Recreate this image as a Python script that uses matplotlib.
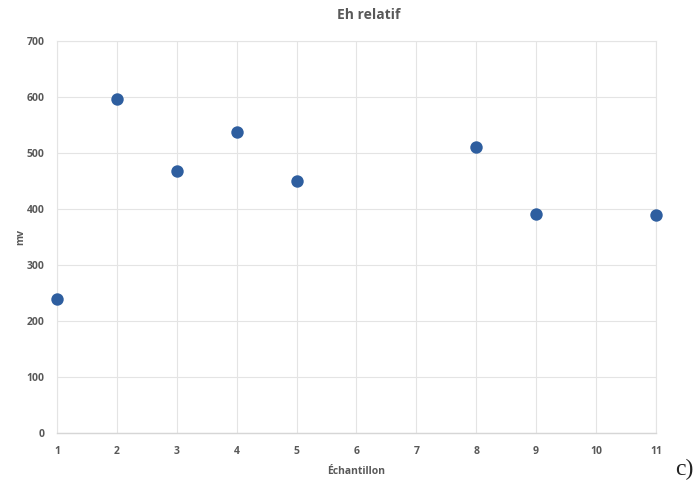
import matplotlib.pyplot as plt

# Données
echantillon = [1, 2, 3, 4, 5, 8, 9, 11]
eh_mv = [240, 597, 468, 537, 450, 511, 391, 390]
x_ticks = list(range(1, 12))
y_ticks = list(range(0, 701, 100))

fig = plt.figure(figsize=(7, 4.98), dpi=100)
ax = fig.add_axes([0.0814, 0.1305, 0.8556, 0.7872])

ax.scatter(echantillon, eh_mv, s=80, color='#2e5e9f', zorder=3, linewidths=0,
           clip_on=False)

ax.set_xlim(1, 11)
ax.set_ylim(0, 700)
ax.set_xticks(x_ticks)
ax.set_yticks(y_ticks)
ax.grid(True, color='#e4e4e4', linewidth=0.8)
ax.set_axisbelow(True)

for s in ['top', 'right', 'left']:
    ax.spines[s].set_color('#e4e4e4')
    ax.spines[s].set_linewidth(0.8)
ax.spines['bottom'].set_color('#d6d6d6')
ax.spines['bottom'].set_linewidth(1.0)

ax.tick_params(length=0, labelsize=7.5, labelcolor='#595959', pad=9)
for lab in ax.get_xticklabels() + ax.get_yticklabels():
    lab.set_fontweight('bold')
    lab.set_family('Open Sans')

ax.set_title('Eh relatif', fontsize=10, fontweight='bold', color='#595959',
             family='Open Sans', pad=16, x=0.52)
ax.set_xlabel('Échantillon', fontsize=7.5, fontweight='bold', color='#595959',
              family='Open Sans', labelpad=7)
ax.set_ylabel('mv', fontsize=7.5, fontweight='bold', color='#595959',
              family='Open Sans', labelpad=0)

fig.text(0.977, 0.058, 'c)', fontsize=17, family='Liberation Serif',
         ha='center', va='center', color='#222222')

fig.savefig('out.png', dpi=100)
